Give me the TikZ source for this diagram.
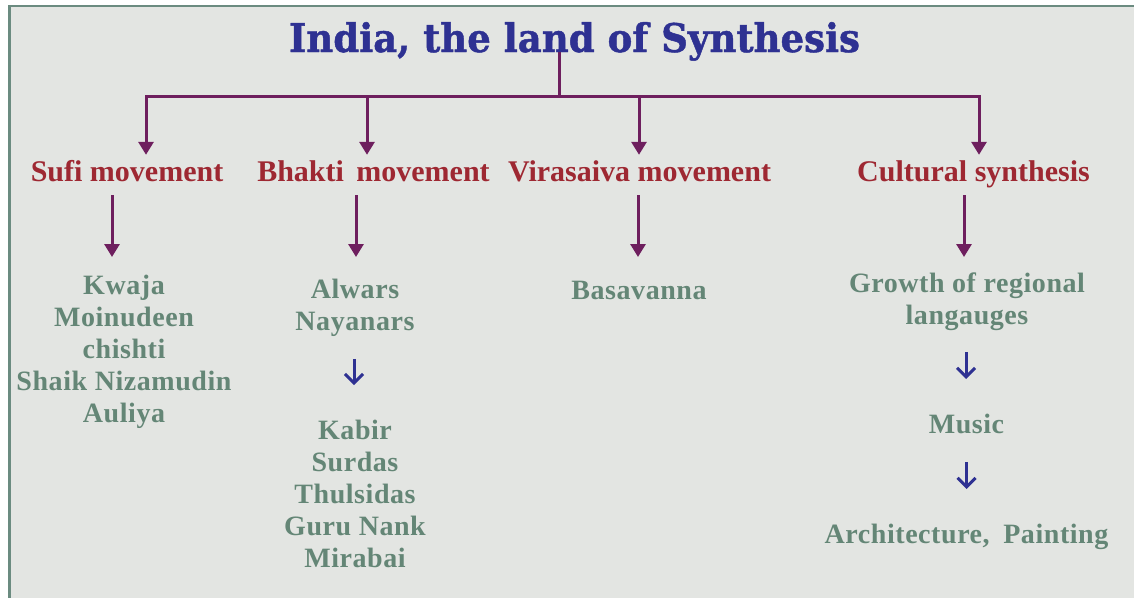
\documentclass[tikz,border=0pt]{standalone}
\usepackage{fontspec}
\usepackage{graphicx}
\setmainfont{Liberation Serif}
\newfontfamily\ttlfont[FakeBold=1.2]{DejaVu Serif}
\newfontfamily\grnfont[LetterSpace=2]{Liberation Serif}
\usetikzlibrary{arrows.meta}
\definecolor{bgc}{HTML}{E3E5E2}
\definecolor{framec}{HTML}{6B8B80}
\definecolor{ttlc}{HTML}{2E3192}
\definecolor{redc}{HTML}{9E2832}
\definecolor{purc}{HTML}{6E1F5E}
\definecolor{grnc}{HTML}{648676}
\definecolor{bluc}{HTML}{2E3192}
\tikzset{
  ttl/.style={inner sep=0pt, text=ttlc, font=\ttlfont\bfseries, anchor=base},
  lvl/.style={inner sep=0pt, text=redc, font=\bfseries\fontsize{30}{34}\selectfont, anchor=base, text height=26pt, text depth=14pt},
  grn/.style={inner sep=0pt, text=grnc, font=\grnfont\bfseries\fontsize{28}{32}\selectfont, align=center, anchor=north},
  pline/.style={draw=purc, line width=3pt},
  parr/.style={pline, -{Triangle[width=15pt,length=13pt]}},
  barr/.style={draw=bluc, line width=3pt, -{Straight Barb[width=18pt,length=9pt]}}
}
\begin{document}
\begin{tikzpicture}[x=1pt,y=-1pt]
\useasboundingbox (0,0) rectangle (1134,597);
\fill[white] (0,0) rectangle (1134,597);
\draw[fill=bgc, draw=framec, line width=2.5pt] (9.5,6) rectangle (1145,610);

\node[ttl] (title) at (574.5,52) {\resizebox{571pt}{30pt}{India, the land of Synthesis}};

\node[lvl] (sufi) at (127,181) {Sufi movement};
\node[lvl] (bhakti) at (373.5,181) {Bhakti\hspace{5pt} movement};
\node[lvl] (vira) at (639.5,181) {Virasaiva movement};
\node[lvl] (cult) at (973.5,181) {Cultural synthesis};

\coordinate (hub) at (559,96);
\draw[pline] (title.base -| hub) -- (hub);
\draw[parr] (hub) -| ([xshift=19pt]sufi.north);
\draw[parr] (hub) -| ([xshift=-6.5pt]bhakti.north);
\draw[parr] (hub) -| ([xshift=-0.5pt]vira.north);
\draw[parr] (hub) -| ([xshift=5.5pt]cult.north);

\node[grn] (kwaja) at (124,275) {Kwaja\\Moinudeen\\chishti\\Shaik Nizamudin\\Auliya};
\node[grn] (alw) at (355,279) {Alwars\\Nayanars};
\node[grn] (kabir) at (355,420) {Kabir\\Surdas\\Thulsidas\\Guru Nank\\Mirabai};
\node[grn] (bas) at (639,281) {Basavanna};
\node[grn] (growth) at (967,273) {Growth of regional\\langauges};
\node[grn] (music) at (966.5,414) {Music};
\node[grn] (arch) at (966.5,524) {Architecture,\hspace{6pt} Painting};

\draw[parr, shorten >=18pt] ([xshift=-15pt]sufi.south) -- ([xshift=-15pt]sufi.south |- kwaja.north);
\draw[parr, shorten >=22pt] ([xshift=-17.5pt]bhakti.south) -- ([xshift=-17.5pt]bhakti.south |- alw.north);
\draw[parr, shorten >=24pt] ([xshift=-1.5pt]vira.south) -- ([xshift=-1.5pt]vira.south |- bas.north);
\draw[parr, shorten >=16pt] ([xshift=-9.5pt]cult.south) -- ([xshift=-9.5pt]cult.south |- growth.north);

\draw[barr, shorten <=22pt, shorten >=35pt] ([xshift=-1pt]alw.south) -- ([xshift=-1pt]kabir.north);
\draw[barr, shorten <=21pt, shorten >=35pt] ([xshift=-1pt]growth.south) -- ([xshift=-1pt]growth.south |- music.north);
\draw[barr, shorten <=28pt, shorten >=35pt] (music.south) -- (music.south |- arch.north);
\end{tikzpicture}
\end{document}
